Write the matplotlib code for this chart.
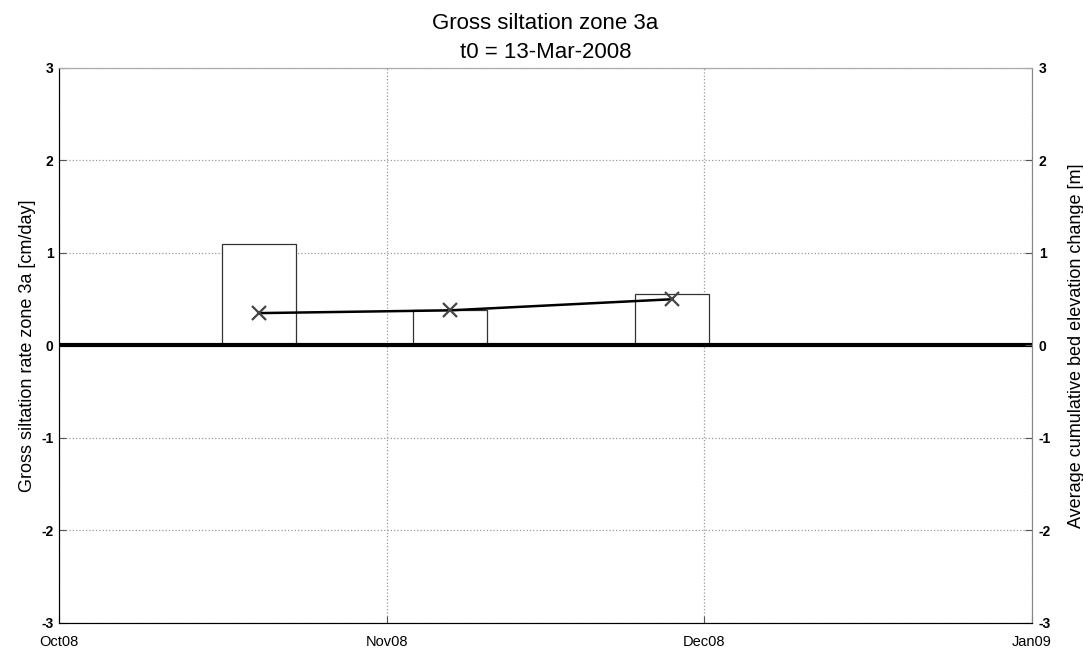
import matplotlib.pyplot as plt
import numpy as np
import datetime as dt

# survey dates (centre of each bar) and measured values
dates = [dt.datetime(2008, 10, 19, 22), dt.datetime(2008, 11, 7), dt.datetime(2008, 11, 28)]
rate = [1.10, 0.38, 0.56]          # gross siltation rate [cm/day]
cum_change = [0.35, 0.38, 0.50]    # average cumulative bed elevation change [m]
bar_days = 7

month_ticks = [dt.datetime(2008, 10, 1), dt.datetime(2008, 11, 1),
               dt.datetime(2008, 12, 1), dt.datetime(2009, 1, 1)]
month_labels = ['Oct08', 'Nov08', 'Dec08', 'Jan09']
yticks = [-3, -2, -1, 0, 1, 2, 3]

plt.rcParams['font.family'] = ['Liberation Sans', 'DejaVu Sans']

fig = plt.figure(figsize=(10.83, 6.48), dpi=100)
ax = fig.add_axes([0.0545, 0.0386, 0.8984, 0.8565])

ax.bar(dates, rate, width=bar_days, facecolor='white', edgecolor='#333333',
       linewidth=0.9, zorder=3)
ax.axhline(0, color='black', linewidth=3, zorder=4)

ax.set_xlim(month_ticks[0], month_ticks[-1])
ax.set_ylim(-3, 3)
ax.set_xticks(month_ticks)
ax.set_xticklabels(month_labels, fontsize=10.5)
ax.set_yticks(yticks)
ax.set_yticklabels([str(v) for v in yticks], fontsize=10, fontweight='bold')
ax.tick_params(direction='in', length=5, color='#555555', pad=4)
ax.tick_params(axis='x', pad=9)
ax.grid(True, linestyle=':', color='#999999', linewidth=0.9)
ax.set_ylabel('Gross siltation rate zone 3a [cm/day]', fontsize=13, labelpad=4)

for side in ['left', 'bottom']:
    ax.spines[side].set_color('#444444')
for side in ['top', 'right']:
    ax.spines[side].set_color('#aaaaaa')

# cumulative change on the right-hand axis
ax2 = ax.twinx()
ax2.plot(dates, cum_change, color='black', linewidth=1.8, marker='x',
         markersize=9.5, markeredgewidth=1.6, markeredgecolor='#444444', zorder=5)
ax2.set_ylim(-3, 3)
ax2.set_yticks(yticks)
ax2.set_yticklabels([str(v) for v in yticks], fontsize=10, fontweight='bold')
ax2.tick_params(direction='in', length=5, color='#555555', pad=5)
ax2.set_ylabel('Average cumulative bed elevation change [m]', fontsize=13, labelpad=12)
ax2.spines['right'].set_color('#888888')
ax2.spines['top'].set_color('#aaaaaa')

ax.set_title('Gross siltation zone 3a\nt0 = 13-Mar-2008', fontsize=16,
             linespacing=1.5, pad=7)

fig.savefig('out.png', dpi=100)
